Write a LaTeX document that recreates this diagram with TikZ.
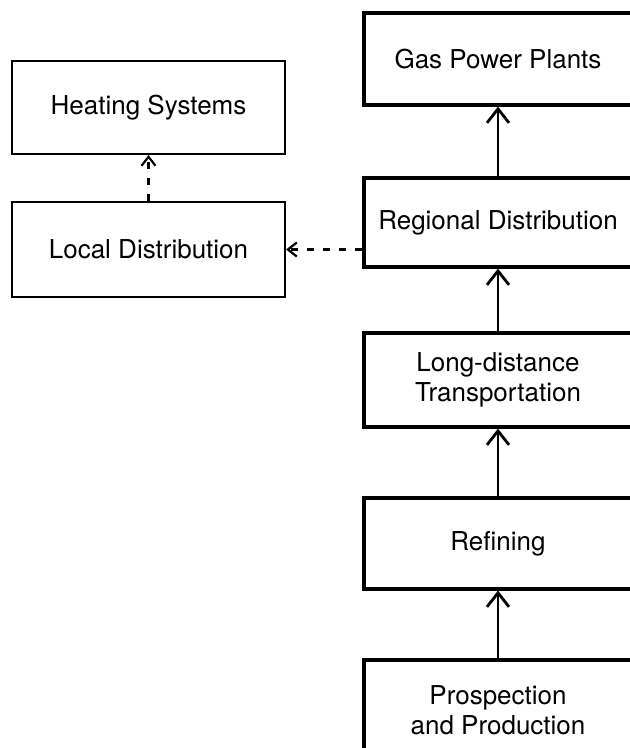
\documentclass[tikz,border=0pt]{standalone}
\usepackage{fontspec}
\setmainfont{TeX Gyre Heros}
\usetikzlibrary{arrows.meta}
\begin{document}
\begin{tikzpicture}[x=1pt,y=-1pt,
  box/.style={draw=black, rectangle, align=center, inner sep=0pt,
    font=\fontsize{26}{30}\selectfont},
  mainbox/.style={box, line width=3.2pt, minimum width=268pt},
  sidebox/.style={box, line width=2pt, minimum width=273pt},
  flow/.style={line width=2.8pt, -{Straight Barb[length=14pt,width=22pt,line width=2.8pt]}},
  dflow/.style={line width=2.2pt, dash pattern=on 7pt off 9pt,
    -{Straight Barb[length=9pt,width=14pt,line width=2.2pt]}}]
\useasboundingbox (0,0) rectangle (630,748);
\clip (0,0) rectangle (630,748);
\node[mainbox, minimum height=92pt] (gas) at (498,59) {Gas Power Plants};
\node[mainbox, minimum height=89pt] (reg) at (498,222.5) {Regional Distribution};
\node[mainbox, minimum height=94pt] (long) at (498,380) {Long-distance\\Transportation};
\node[mainbox, minimum height=91pt] (ref) at (498,543.5) {Refining};
\node[mainbox, minimum height=100pt] (pros) at (498,710) {Prospection\\and Production};
\node[sidebox, minimum height=93pt] (heat) at (148.5,107.5) {Heating Systems};
\node[sidebox, minimum height=95pt] (local) at (148.5,249.5) {Local Distribution};
\draw[flow] (pros) -- (ref);
\draw[flow] (ref) -- (long);
\draw[flow] (long) -- (reg);
\draw[flow] (reg) -- (gas);
\draw[dflow] (local) -- (heat);
\draw[dflow] (local.east -| reg.west) -- (local.east);
\end{tikzpicture}
\end{document}
